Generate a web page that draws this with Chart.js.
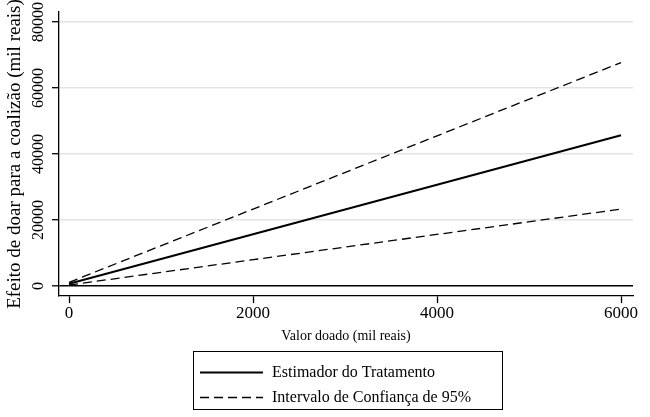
<!DOCTYPE html>
<html>
<head>
<meta charset="utf-8">
<script src="https://cdn.jsdelivr.net/npm/chart.js@4"></script>
<style>
  body { margin: 0; background: #fff; }
  #wrap { width: 650px; height: 417px; }
</style>
</head>
<body>
<div id="wrap"><canvas id="myChart" width="650" height="417"></canvas></div>
<script>
// dados
const xValues = [0, 6000]
const estimate = [700, 45700]
const upperCI = [1100, 67700]
const lowerCI = [300, 23300]
const xTicks = [0, 2000, 4000, 6000]
const yTicks = [0, 20000, 40000, 60000, 80000]
const seriesLabels = ['Estimador do Tratamento', 'Intervalo de Confiança de 95%']

const serif = '"Liberation Serif", "Times New Roman", serif'

function toPoints(ys) {
  return xValues.map((x, i) => ({ x: x, y: ys[i] }))
}

// rotulos do eixo y na vertical
const yLabels = {
  id: 'yLabels',
  afterDraw(chart) {
    const ctx = chart.ctx
    const scale = chart.scales.y
    ctx.save()
    ctx.fillStyle = '#000'
    ctx.font = '16px ' + serif
    ctx.textAlign = 'center'
    ctx.textBaseline = 'middle'
    scale.ticks.forEach(t => {
      const y = scale.getPixelForValue(t.value)
      ctx.save()
      ctx.translate(39, y)
      ctx.rotate(-Math.PI / 2)
      ctx.fillText(String(t.value), 0, 0)
      ctx.restore()
    })
    ctx.restore()
  }
}

// legenda com caixa
const boxLegend = {
  id: 'boxLegend',
  afterDraw(chart) {
    const ctx = chart.ctx
    ctx.save()
    ctx.strokeStyle = '#000'
    ctx.lineWidth = 1
    ctx.strokeRect(193.5, 351.5, 309, 58)
    const items = chart.data.datasets.filter(d => !d.noLegend)
    items.forEach((d, i) => {
      const y = 372 + i * 25
      ctx.beginPath()
      ctx.setLineDash(d.borderDash || [])
      ctx.lineWidth = Math.max(1.5, d.borderWidth)
      ctx.moveTo(200, y + 0.5)
      ctx.lineTo(263, y + 0.5)
      ctx.stroke()
      ctx.setLineDash([])
      ctx.fillStyle = '#000'
      ctx.font = '16px ' + serif
      ctx.textAlign = 'left'
      ctx.textBaseline = 'middle'
      ctx.fillText(d.label, 272, y + 1)
    })
    ctx.restore()
  }
}

const ctx = document.getElementById('myChart').getContext('2d')
const myChart = new Chart(ctx, {
  type: 'line',
  data: {
    datasets: [
      {
        label: seriesLabels[0],
        data: toPoints(estimate),
        borderColor: '#000',
        borderWidth: 2,
        pointRadius: 0,
      },
      {
        label: seriesLabels[1],
        data: toPoints(upperCI),
        borderColor: '#000',
        borderWidth: 1.3,
        borderDash: [9, 5],
        pointRadius: 0,
      },
      {
        label: seriesLabels[1],
        data: toPoints(lowerCI),
        borderColor: '#000',
        borderWidth: 1.3,
        borderDash: [9, 5],
        pointRadius: 0,
        noLegend: true,
      },
    ],
  },
  options: {
    responsive: false,
    animation: false,
    layout: { padding: { top: 12, right: 17, bottom: 69, left: 0 } },
    plugins: {
      legend: { display: false },
      tooltip: { enabled: false },
    },
    scales: {
      x: {
        type: 'linear',
        min: -109,
        max: 6130,
        afterBuildTicks: s => { s.ticks = xTicks.map(v => ({ value: v })) },
        afterFit: s => { s.height = 52 },
        border: { color: '#000', width: 1.3 },
        grid: {
          drawOnChartArea: false,
          tickLength: 7,
          tickColor: '#000',
          tickWidth: 1.3,
        },
        ticks: {
          color: '#000',
          padding: 0,
          font: { family: serif, size: 17 },
          callback: v => String(v),
        },
        title: {
          display: true,
          text: 'Valor doado (mil reais)',
          color: '#000',
          font: { family: serif, size: 14 },
          padding: { top: 0, bottom: 3 },
        },
      },
      y: {
        type: 'linear',
        min: -3030,
        max: 83030,
        afterBuildTicks: s => { s.ticks = yTicks.map(v => ({ value: v })) },
        afterFit: s => { s.width = 59 },
        border: { color: '#000', width: 1.3 },
        grid: {
          color: c => (c.tick && c.tick.value === 0 ? '#000' : '#e3e3e3'),
          lineWidth: c => (c.tick && c.tick.value === 0 ? 1.6 : 1.4),
          tickLength: 7,
          tickColor: '#000',
          tickWidth: 1.3,
        },
        ticks: { display: false },
        title: {
          display: true,
          text: 'Efeito de doar para a coalizão (mil reais)',
          color: '#000',
          font: { family: serif, size: 19 },
          padding: { top: 4, bottom: 0 },
        },
      },
    },
  },
  plugins: [yLabels, boxLegend],
})
</script>
</body>
</html>
